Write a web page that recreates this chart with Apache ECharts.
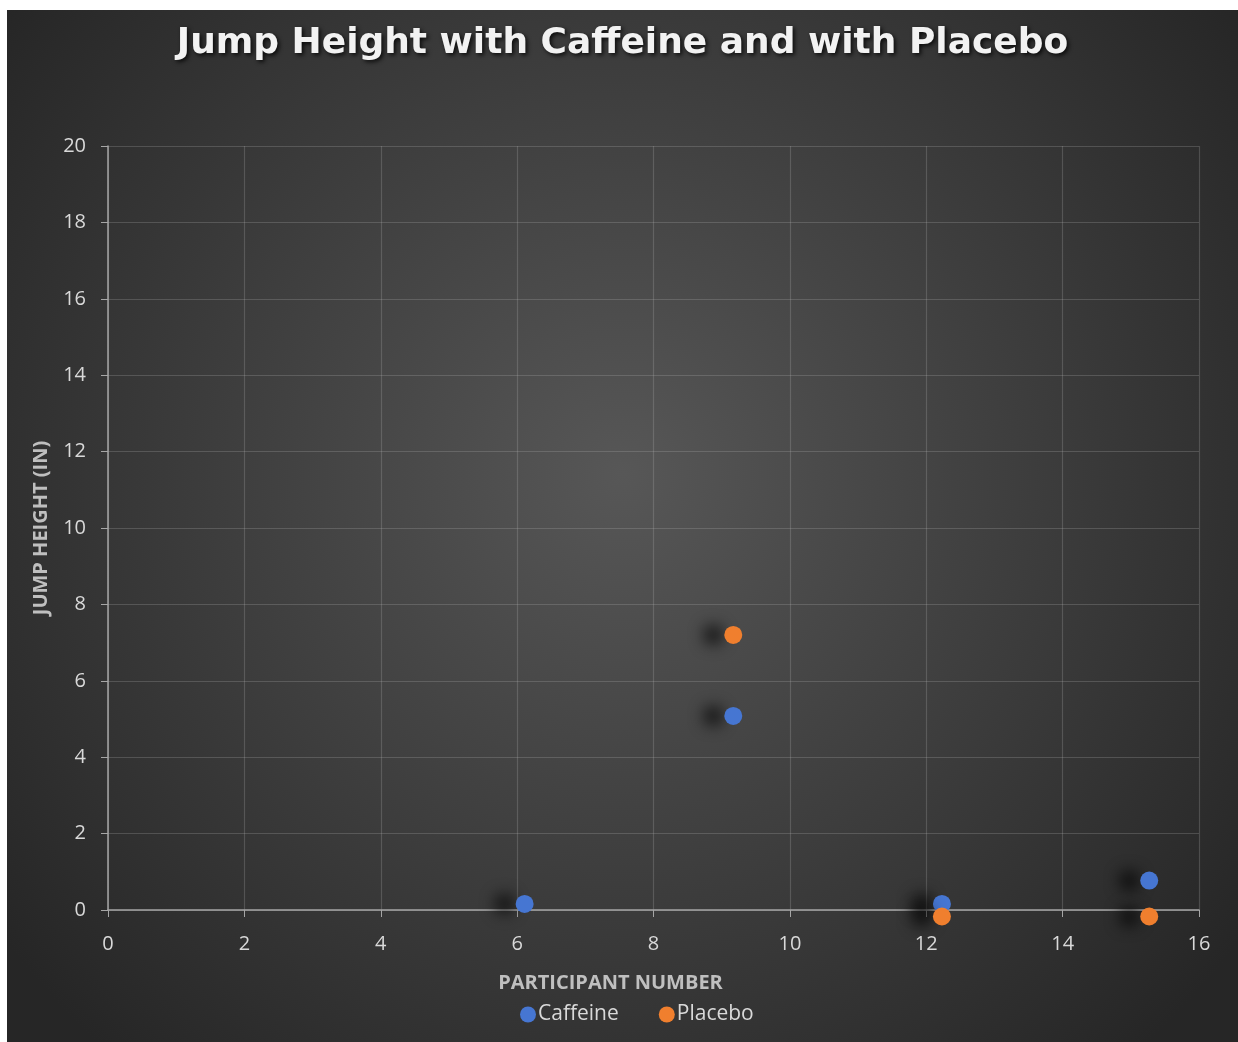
<!DOCTYPE html>
<html>
<head>
<meta charset="utf-8">
<script src="https://cdn.jsdelivr.net/npm/echarts@6/dist/echarts.min.js"></script>
<style>
html,body{margin:0;padding:0;background:#fff;}
#c{position:absolute;left:7px;top:10px;width:1231px;height:1032px;}
</style>
</head>
<body>
<div id="c"></div>
<script>
const titleText = 'Jump Height with Caffeine and with Placebo';
const xAxisName = 'PARTICIPANT NUMBER';
const yAxisName = 'JUMP HEIGHT (IN)';
const seriesNames = ['Caffeine', 'Placebo'];
const caffeineX = [6.11, 9.17, 12.23, 15.27];
const caffeineY = [0.16, 5.08, 0.16, 0.77];
const placeboX = [9.17, 12.23, 15.27];
const placeboY = [7.2, -0.17, -0.17];
const colors = ['#4676d2', '#f07f2e'];

const chart = echarts.init(document.getElementById('c'));
const pair = (xs, ys) => xs.map((x, i) => [x, ys[i]]);
const shadow = {shadowColor: 'rgba(0,0,0,0.9)', shadowBlur: 16, shadowOffsetX: -20, shadowOffsetY: 0, opacity: 1};
chart.setOption({
  backgroundColor: {
    type: 'radial', x: 0.5, y: 0.45, r: 0.75,
    colorStops: [{offset: 0, color: '#575757'}, {offset: 1, color: '#262626'}]
  },
  title: {
    text: titleText, left: 'center', top: 11,
    textStyle: {color: '#f2f2f2', fontFamily: 'DejaVu Sans', fontWeight: 'bold', fontSize: 36,
      textShadowColor: 'rgba(0,0,0,0.8)', textShadowBlur: 4, textShadowOffsetX: 2, textShadowOffsetY: 2}
  },
  legend: {
    bottom: 12, left: 508, itemGap: 40, itemWidth: 16, itemHeight: 16,
    icon: 'circle',
    textStyle: {color: '#d9d9d9', fontSize: 21, fontFamily: 'Open Sans', padding: [0, 0, 0, -3]},
    data: seriesNames
  },
  grid: {left: 101, top: 136, right: 39, bottom: 132, containLabel: false},
  xAxis: {
    type: 'value', min: 0, max: 16, interval: 2,
    name: xAxisName, nameLocation: 'middle', nameGap: 63,
    nameTextStyle: {color: '#bfbfbf', fontWeight: 'bold', fontSize: 20, fontFamily: 'Open Sans', padding: [0, 86, 0, 0]},
    axisLine: {show: true, lineStyle: {color: '#a6a6a6', width: 1.5}},
    axisTick: {show: true, length: 7, lineStyle: {color: '#a6a6a6'}},
    axisLabel: {color: '#d9d9d9', fontSize: 20, margin: 24, fontFamily: 'Open Sans'},
    splitLine: {show: true, lineStyle: {color: 'rgba(180,180,180,0.25)', width: 1.2}}
  },
  yAxis: {
    type: 'value', min: 0, max: 20, interval: 2,
    name: yAxisName, nameLocation: 'middle', nameGap: 57, nameRotate: 90,
    nameTextStyle: {color: '#bfbfbf', fontWeight: 'bold', fontSize: 20, fontFamily: 'Open Sans'},
    axisLine: {show: true, lineStyle: {color: '#a6a6a6', width: 1.5}},
    axisTick: {show: true, length: 7, lineStyle: {color: '#a6a6a6'}},
    axisLabel: {color: '#d9d9d9', fontSize: 20, margin: 22, fontFamily: 'Open Sans'},
    splitLine: {show: true, lineStyle: {color: 'rgba(180,180,180,0.25)', width: 1.2}}
  },
  series: [
    {name: seriesNames[0], type: 'scatter', symbolSize: 18, clip: false,
     itemStyle: Object.assign({color: colors[0]}, shadow),
     data: pair(caffeineX, caffeineY)},
    {name: seriesNames[1], type: 'scatter', symbolSize: 18, clip: false,
     itemStyle: Object.assign({color: colors[1]}, shadow),
     data: pair(placeboX, placeboY)}
  ]
});
</script>
</body>
</html>
